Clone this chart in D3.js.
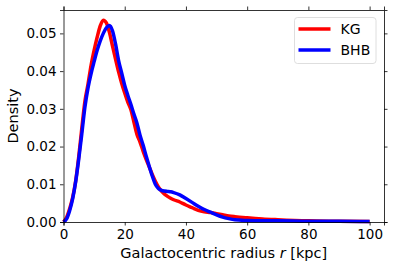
<!DOCTYPE html>
<html>
<head>
<meta charset="utf-8">
<script src="https://cdn.jsdelivr.net/npm/d3@7"></script>
<style>
body { margin: 0; background: #fff; }
text { font-family: "DejaVu Sans", sans-serif; fill: #000; }
</style>
</head>
<body>
<div id="chart"></div>
<script>
// radius grid (kpc) and density
var radius = [0,1,2,3,4,5,6,7,8,9,10,11,12,13,14,15,16,17,18,19,20,21,22,23,24,25,26,27,28,29,30,31,32,33,34,35,36,38,40,42,44,46,48,50,52,54,56,60,65,70,80,90,100];
var kg = [0,0.0012,0.0035,0.0065,0.011,0.0175,0.025,0.032,0.0365,0.0415,0.0455,0.049,0.052,0.0535,0.0528,0.0503,0.0467,0.0432,0.0398,0.0368,0.0342,0.0318,0.0298,0.0265,0.0232,0.0212,0.0188,0.0166,0.0146,0.0126,0.0108,0.0093,0.0082,0.0074,0.0068,0.0063,0.0059,0.0053,0.0045,0.0038,0.0031,0.0027,0.0025,0.0022,0.0019,0.0016,0.0014,0.0011,0.0008,0.0006,0.0003,0.0002,0.0001];
var bhb = [0,0.0008,0.003,0.0062,0.0108,0.0168,0.0235,0.0305,0.0355,0.0393,0.0425,0.0455,0.048,0.0500,0.0515,0.0521,0.0507,0.0472,0.0428,0.0395,0.0362,0.0336,0.0312,0.0286,0.0262,0.0230,0.0204,0.0175,0.0148,0.0122,0.0100,0.0089,0.0084,0.0082,0.0081,0.0080,0.0078,0.0072,0.0062,0.0052,0.0042,0.0033,0.0026,0.0019,0.0013,0.0009,0.0006,0.0004,0.0003,0.0003,0.0002,0.0002,0.0001];
var xTicks = [0,20,40,60,80,100];
var yTicks = [0,0.01,0.02,0.03,0.04,0.05];
var seriesNames = ["KG","BHB"];
var seriesColors = ["#ff0000","#0000ff"];

var width = 394, height = 269;
var margin = {left: 63.5, right: 10, top: 10, bottom: 47};

var svg = d3.select("#chart").append("svg")
  .attr("width", width)
  .attr("height", height);

var x = d3.scaleLinear().domain([0, 104.7]).range([margin.left, width - margin.right]);
var y = d3.scaleLinear().domain([0, 0.0562]).range([height - margin.bottom, margin.top]);

// curves, red first then blue on top
var line = d3.line()
  .x(function(d){ return x(d[0]); })
  .y(function(d){ return y(d[1]); })
  .curve(d3.curveMonotoneX);

var plot = svg.append("g");
[kg, bhb].forEach(function(s, i){
  plot.append("path")
    .datum(radius.map(function(r, j){ return [r, s[j]]; }))
    .attr("d", line)
    .attr("fill", "none")
    .attr("stroke", seriesColors[i])
    .attr("stroke-width", 3.5)
    .attr("stroke-linejoin", "round")
    .attr("stroke-linecap", "butt");
});

// axes, ticks outward on all four sides
var fmt = d3.format(".2f");
var axBottom = svg.append("g")
  .attr("transform", "translate(0," + y(0) + ")")
  .call(d3.axisBottom(x).tickValues(xTicks).tickSizeOuter(0).tickSize(3.5).tickPadding(3.5));
var axLeft = svg.append("g")
  .attr("transform", "translate(" + x(0) + ",0)")
  .call(d3.axisLeft(y).tickValues(yTicks).tickFormat(fmt).tickSizeOuter(0).tickSize(3.5).tickPadding(3.5));
var axTop = svg.append("g")
  .attr("transform", "translate(0," + margin.top + ")")
  .call(d3.axisTop(x).tickValues(xTicks).tickSizeOuter(0).tickSize(3.5).tickFormat(""));
var axRight = svg.append("g")
  .attr("transform", "translate(" + (width - margin.right) + ",0)")
  .call(d3.axisRight(y).tickValues(yTicks).tickSizeOuter(0).tickSize(3.5).tickFormat(""));

[axBottom, axLeft, axTop, axRight].forEach(function(g){
  g.selectAll("path").attr("stroke", "#000").attr("stroke-width", 0.8);
  g.selectAll("line").attr("stroke", "#000").attr("stroke-width", 0.8);
  g.selectAll("text").style("font-size", "13.5px").attr("fill", "#000");
});

// axis labels
var xl = svg.append("text")
  .attr("x", (x(0) + x(104.7)) / 2)
  .attr("y", 258)
  .attr("text-anchor", "middle")
  .style("font-size", "14.5px");
xl.append("tspan").text("Galactocentric radius ");
xl.append("tspan").style("font-style", "italic").text("r");
xl.append("tspan").text(" [kpc]");

svg.append("text")
  .attr("transform", "translate(18," + ((y(0) + y(0.0562)) / 2) + ") rotate(-90)")
  .attr("text-anchor", "middle")
  .style("font-size", "14.5px")
  .text("Density");

// legend
var lg = svg.append("g").attr("transform", "translate(294.5,17.5)");
lg.append("rect")
  .attr("width", 81.5).attr("height", 46)
  .attr("rx", 3).attr("ry", 3)
  .attr("fill", "#fff").attr("fill-opacity", 0.8)
  .attr("stroke", "#d6d6d6").attr("stroke-width", 0.8);
seriesNames.forEach(function(n, i){
  var yy = 11.5 + i * 21;
  lg.append("line")
    .attr("x1", 4).attr("x2", 36).attr("y1", yy).attr("y2", yy)
    .attr("stroke", seriesColors[i]).attr("stroke-width", 3.5);
  lg.append("text")
    .attr("x", 46).attr("y", yy + 5)
    .style("font-size", "14px")
    .text(n);
});
</script>
</body>
</html>
